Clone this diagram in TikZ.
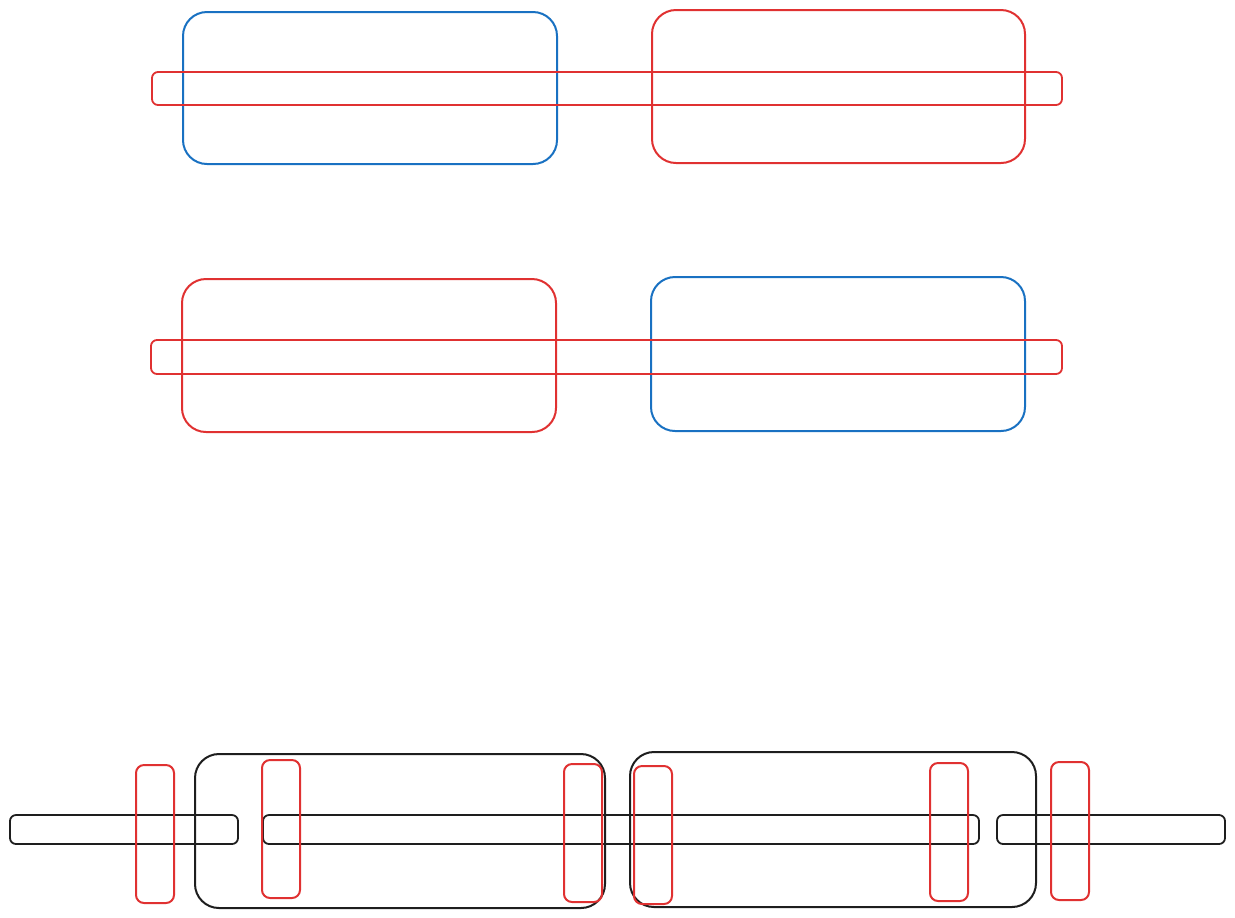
\documentclass[tikz,border=0pt]{standalone}
\usepackage{xcolor}
\definecolor{bleu}{HTML}{1971C2}
\definecolor{rouge}{HTML}{E03131}
\definecolor{noir}{HTML}{1E1E1E}
\tikzset{
  boite/.style={line width=1pt,rounded corners=12pt},
  barre/.style={line width=0.9pt,rounded corners=3pt},
  cale/.style={line width=1pt,rouge,rounded corners=4pt}
}
\begin{document}
\begin{tikzpicture}[x=0.5pt,y=-0.5pt]
\useasboundingbox (0,0) rectangle (1235,917);
% Premier montage : bleu a gauche, rouge a droite
\draw[boite,bleu] (183,12) rectangle (557,164);
\draw[boite,rouge] (652,10) rectangle (1025,163);
\draw[barre,rouge] (152,72) rectangle (1062,105);
% Deuxieme montage : rouge a gauche, bleu a droite
\draw[boite,rouge] (182,279) rectangle (556,432);
\draw[boite,bleu] (651,277) rectangle (1025,431);
\draw[barre,rouge] (151,340) rectangle (1062,374);
% Troisieme montage : barres, boites noires et cales
\foreach \a/\b in {10/238,263/979,997/1225}
  \draw[barre,noir] (\a,815) rectangle (\b,844);
\draw[boite,noir] (195,754) rectangle (605,908);
\draw[boite,noir] (630,752) rectangle (1036,907);
\foreach \x/\y in {136/765,262/760,564/764,634/766,930/763,1051/762}
  \draw[cale] (\x,\y) rectangle +(38,138);
\end{tikzpicture}
\end{document}
